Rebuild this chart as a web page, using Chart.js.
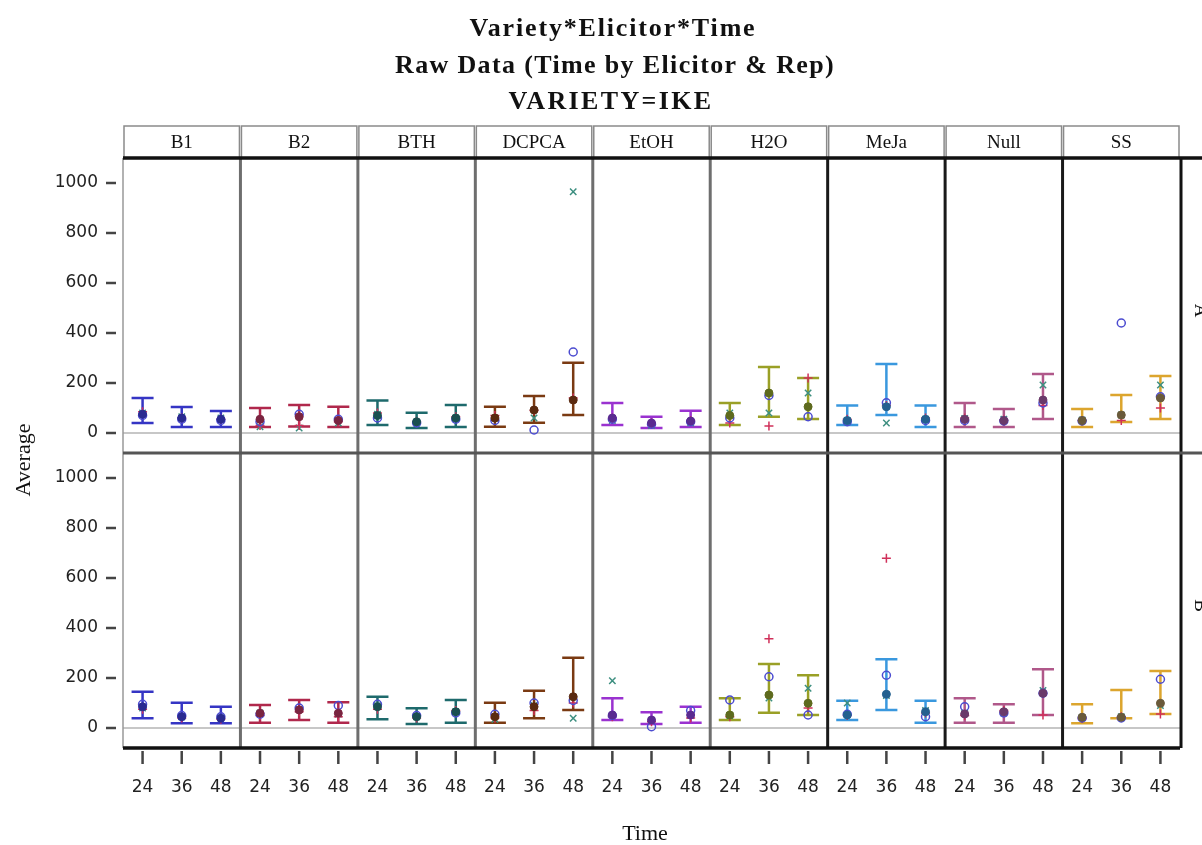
<!DOCTYPE html>
<html>
<head>
<meta charset="utf-8">
<script src="https://cdn.jsdelivr.net/npm/chart.js@4.4.1/dist/chart.umd.min.js"></script>
<style>
html, body { margin: 0; padding: 0; background: #fff; }
</style>
</head>
<body>
<canvas id="chart" width="1202" height="845"></canvas>
<script>
// panels: elicitor columns, variety rep rows
const elicitors = ['B1', 'B2', 'BTH', 'DCPCA', 'EtOH', 'H2O', 'MeJa', 'Null', 'SS'];
const times = ['24', '36', '48'];
const rows = ['A', 'B'];
const yTicks = [0, 200, 400, 600, 800, 1000];

// order: B1 24/36/48, B2 24/36/48, ... SS 24/36/48
const meanA = [75, 60, 55, 55, 65, 50, 70, 45, 60, 60, 92, 132, 60, 40, 48, 70, 160, 105, 50, 105, 55, 55, 50, 132, 50, 72, 140];
const lowA = [40, 24, 24, 24, 26, 24, 32, 20, 24, 25, 41, 72, 32, 20, 24, 32, 65, 56, 32, 72, 24, 24, 24, 56, 24, 44, 56];
const highA = [140, 104, 88, 100, 112, 105, 130, 81, 112, 105, 148, 281, 120, 65, 89, 120, 264, 220, 110, 276, 110, 120, 96, 236, 96, 152, 228];
const repOA = [70, 55, 50, 45, 75, 55, 60, 40, 55, 50, 12, 324, 55, 35, 45, 60, 150, 65, 45, 121, 50, 50, 48, 120, 48, 440, 145];
const repPlusA = [85, 60, 55, 30, 30, 45, 80, 45, 65, 70, 90, 140, 60, 40, 50, 40, 28, 220, 55, 110, 60, 60, 52, 110, 50, 50, 100];
const repXA = [80, 65, 60, 25, 20, 40, 75, 40, 60, 60, 60, 965, 50, 30, 40, 80, 80, 160, 50, 40, 55, 58, 55, 192, 52, 72, 192];

const meanB = [85, 45, 39, 59, 72, 59, 85, 45, 65, 45, 85, 125, 52, 32, 52, 52, 132, 99, 52, 135, 65, 56, 65, 139, 43, 43, 99];
const lowB = [39, 19, 19, 21, 32, 21, 35, 16, 21, 21, 39, 72, 32, 16, 21, 32, 61, 52, 32, 72, 21, 21, 21, 52, 19, 39, 56];
const highB = [145, 101, 85, 92, 112, 103, 125, 79, 112, 101, 149, 281, 119, 63, 85, 119, 256, 211, 109, 275, 109, 119, 95, 235, 95, 152, 228];
const repOB = [95, 50, 45, 55, 80, 90, 95, 50, 60, 55, 100, 110, 50, 5, 70, 112, 205, 52, 55, 211, 45, 85, 60, 139, 40, 40, 195];
const repPlusB = [75, 40, 35, 50, 65, 45, 75, 40, 70, 40, 70, 100, 45, 25, 40, 45, 357, 80, 50, 679, 60, 50, 70, 52, 38, 45, 56];
const repXB = [80, 45, 40, 60, 75, 55, 90, 45, 65, 35, 90, 39, 189, 30, 50, 50, 120, 159, 100, 130, 70, 60, 60, 150, 42, 45, 90];

const elicitorColors = ['#3535c4', '#b0284c', '#1e6a6c', '#7a3a12', '#9a32d0', '#9aa026', '#3a98de', '#b0588a', '#dca52e'];
const meanColors = ['#2a2a90', '#7a2440', '#1a4f50', '#5a2a10', '#5a2a90', '#5e6a1e', '#23608f', '#6a3a6a', '#6a5a3a'];

const toPoints = arr => arr.map((v, i) => ({ x: i, y: v }));
const pointColors = meanA.map((v, i) => meanColors[Math.floor(i / 3)]);

function repSets(yAxisID, o, plus, x, mean) {
    return [{
        label: 'Mean ' + yAxisID,
        yAxisID: yAxisID,
        data: toPoints(mean),
        pointStyle: 'circle',
        pointRadius: 4,
        pointBackgroundColor: pointColors,
        pointBorderColor: pointColors,
        pointBorderWidth: 1
    }, {
        label: 'Rep o ' + yAxisID,
        yAxisID: yAxisID,
        data: toPoints(o),
        pointStyle: 'circle',
        pointRadius: 4,
        pointBackgroundColor: 'rgba(0,0,0,0)',
        pointBorderColor: '#4b4bd0',
        pointBorderWidth: 1.5
    }, {
        label: 'Rep + ' + yAxisID,
        yAxisID: yAxisID,
        data: toPoints(plus),
        pointStyle: 'cross',
        pointRadius: 4.5,
        pointBorderColor: '#d0305a',
        pointBorderWidth: 1.5
    }, {
        label: 'Rep x ' + yAxisID,
        yAxisID: yAxisID,
        data: toPoints(x),
        pointStyle: 'crossRot',
        pointRadius: 4.5,
        pointBorderColor: '#3d8f80',
        pointBorderWidth: 1.5
    }];
}

function textSpaced(ctx, text, x, y, font, width) {
    ctx.font = font;
    const w = ctx.measureText(text).width;
    ctx.letterSpacing = ((width - w) / text.length) + 'px';
    ctx.textAlign = 'center';
    ctx.fillText(text, x, y);
    ctx.letterSpacing = '0px';
}

const panelPlugin = {
    id: 'panels',
    beforeDatasetsDraw(chart) {
        const ctx = chart.ctx, xs = chart.scales.x, area = chart.chartArea;
        ctx.save();
        [['yA', lowA, highA], ['yB', lowB, highB]].forEach(([id, low, high]) => {
            const s = chart.scales[id];
            const y0 = s.getPixelForValue(0);
            ctx.strokeStyle = '#b4b4b4';
            ctx.lineWidth = 1.5;
            ctx.beginPath();
            ctx.moveTo(area.left, y0);
            ctx.lineTo(area.right, y0);
            ctx.stroke();
            low.forEach((v, i) => {
                const x = xs.getPixelForValue(i);
                const yl = s.getPixelForValue(v), yh = s.getPixelForValue(high[i]);
                ctx.strokeStyle = elicitorColors[Math.floor(i / 3)];
                ctx.lineWidth = 2.5;
                ctx.beginPath();
                ctx.moveTo(x, yl); ctx.lineTo(x, yh);
                ctx.moveTo(x - 11, yl); ctx.lineTo(x + 11, yl);
                ctx.moveTo(x - 11, yh); ctx.lineTo(x + 11, yh);
                ctx.stroke();
            });
        });
        ctx.restore();
    },
    afterDraw(chart) {
        const ctx = chart.ctx, xs = chart.scales.x, area = chart.chartArea;
        const W = chart.width;
        const mid = chart.scales.yA.bottom;
        ctx.save();
        ctx.lineCap = 'butt';

        // header strip
        const hTop = 126;
        ctx.font = '19px "Liberation Serif"';
        ctx.textAlign = 'center';
        ctx.textBaseline = 'middle';
        elicitors.forEach((e, k) => {
            const x0 = xs.getPixelForValue(3 * k - 0.5), x1 = xs.getPixelForValue(3 * k + 2.5);
            ctx.strokeStyle = '#8a8a8a';
            ctx.lineWidth = 1.5;
            ctx.strokeRect(x0 + 1, hTop, x1 - x0 - 2, area.top - hTop);
            ctx.fillStyle = '#111';
            ctx.fillText(e, (x0 + x1) / 2, (hTop + area.top) / 2 + 1);
        });

        // panel separators
        for (let k = 1; k < elicitors.length; k++) {
            const x = xs.getPixelForValue(3 * k - 0.5);
            ctx.strokeStyle = k <= 5 ? '#6e6e6e' : '#1a1a1a';
            ctx.lineWidth = 3;
            ctx.beginPath();
            ctx.moveTo(x, area.top); ctx.lineTo(x, area.bottom);
            ctx.stroke();
        }
        ctx.strokeStyle = '#999';
        ctx.lineWidth = 1.5;
        ctx.beginPath();
        ctx.moveTo(area.left, area.top); ctx.lineTo(area.left, area.bottom);
        ctx.stroke();
        ctx.strokeStyle = '#111';
        ctx.lineWidth = 3;
        ctx.beginPath();
        ctx.moveTo(area.right + 1, area.top); ctx.lineTo(area.right + 1, area.bottom);
        ctx.stroke();

        // horizontal borders
        ctx.strokeStyle = '#111';
        ctx.lineWidth = 3.5;
        ctx.beginPath();
        ctx.moveTo(area.left, area.top); ctx.lineTo(W, area.top);
        ctx.moveTo(area.left, area.bottom); ctx.lineTo(area.right, area.bottom);
        ctx.stroke();
        ctx.strokeStyle = '#555';
        ctx.lineWidth = 3;
        ctx.beginPath();
        ctx.moveTo(area.left, mid); ctx.lineTo(W, mid);
        ctx.stroke();

        // tick marks
        ctx.strokeStyle = '#444';
        ctx.lineWidth = 2.5;
        ctx.beginPath();
        ['yA', 'yB'].forEach(id => {
            yTicks.forEach(v => {
                const y = chart.scales[id].getPixelForValue(v);
                ctx.moveTo(106, y); ctx.lineTo(116, y);
            });
        });
        xs.ticks.forEach(t => {
            const x = xs.getPixelForValue(t.value);
            ctx.moveTo(x, area.bottom + 3); ctx.lineTo(x, area.bottom + 16);
        });
        ctx.stroke();

        // titles
        ctx.fillStyle = '#111';
        ctx.textBaseline = 'alphabetic';
        textSpaced(ctx, 'Variety*Elicitor*Time', 613, 36, 'bold 26px "Liberation Serif"', 287);
        textSpaced(ctx, 'Raw Data (Time by Elicitor & Rep)', 615, 73, 'bold 26px "Liberation Serif"', 440);
        textSpaced(ctx, 'VARIETY=IKE', 611, 109, 'bold 26px "Liberation Serif"', 205);
        ctx.font = '22px "Liberation Serif"';
        ctx.textAlign = 'center';
        ctx.fillText('Time', 645, 840);

        ctx.textBaseline = 'middle';
        ctx.save();
        ctx.translate(24, 460);
        ctx.rotate(-Math.PI / 2);
        ctx.fillText('Average', 0, 0);
        ctx.restore();

        // row labels on the right strip
        ctx.font = '19px "Liberation Serif"';
        rows.forEach((r, j) => {
            const s = chart.scales[j === 0 ? 'yA' : 'yB'];
            ctx.save();
            ctx.translate(1200, (s.top + s.bottom) / 2 + 5);
            ctx.rotate(Math.PI / 2);
            ctx.fillText(r, 0, 0);
            ctx.restore();
        });
        ctx.restore();
    }
};

const yAxis = (weight) => ({
    type: 'linear',
    position: 'left',
    stack: 'rows',
    stackWeight: 1,
    weight: weight,
    min: -80,
    max: 1100,
    afterBuildTicks: scale => { scale.ticks = yTicks.map(v => ({ value: v })); },
    afterFit: scale => { scale.width = 123; },
    grid: { drawOnChartArea: false, drawTicks: false },
    border: { display: false },
    ticks: {
        padding: 25,
        color: '#222',
        font: { family: 'DejaVu Sans', size: 17 },
        callback: v => String(v)
    }
});

const ctx = document.getElementById('chart').getContext('2d');
const chart = new Chart(ctx, {
    type: 'scatter',
    data: {
        datasets: [...repSets('yA', repOA, repPlusA, repXA, meanA), ...repSets('yB', repOB, repPlusB, repXB, meanB)]
    },
    options: {
        responsive: false,
        animation: false,
        events: [],
        layout: { padding: { top: 158, right: 22, left: 0, bottom: 0 } },
        plugins: { legend: { display: false }, tooltip: { enabled: false } },
        scales: {
            x: {
                type: 'linear',
                min: -0.5,
                max: 26.5,
                afterBuildTicks: scale => {
                    scale.ticks = elicitors.flatMap((e, k) => times.map((t, j) => ({ value: 3 * k + j })));
                },
                afterFit: scale => { scale.height = 97; },
                grid: { drawOnChartArea: false, drawTicks: false },
                border: { display: false },
                ticks: {
                    autoSkip: false,
                    maxRotation: 0,
                    padding: 29,
                    color: '#222',
                    font: { family: 'DejaVu Sans', size: 17 },
                    callback: (v) => times[Math.round(v) % 3]
                }
            },
            yB: yAxis(1),
            yA: yAxis(2)
        }
    },
    plugins: [panelPlugin]
});
</script>
</body>
</html>
